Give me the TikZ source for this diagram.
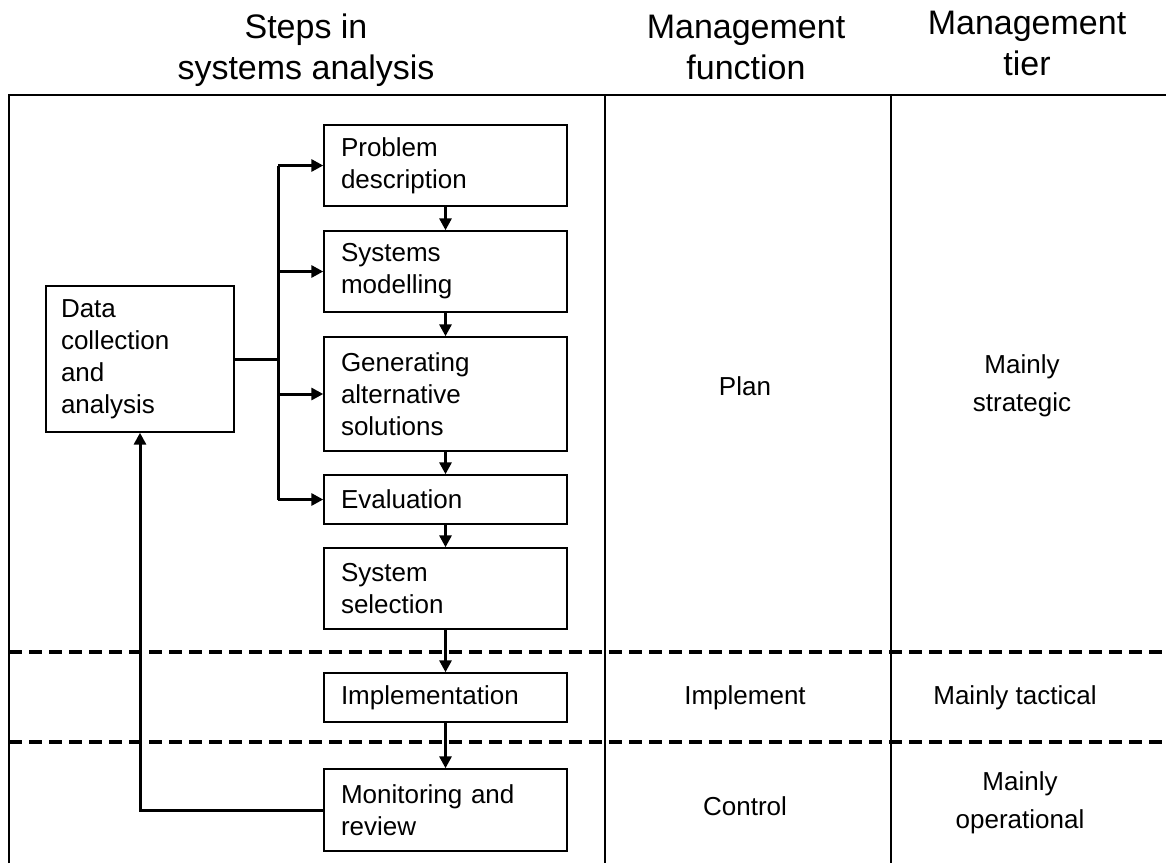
\documentclass[tikz,border=0pt]{standalone}
\usepackage{fontspec}
\setmainfont{Liberation Sans}
\usetikzlibrary{arrows.meta}

\begin{document}
\begin{tikzpicture}[x=1pt,y=1pt,yscale=-1,
  stagebox/.style={draw,rectangle,line width=1.4pt,align=left,inner xsep=17pt,inner ysep=0pt,text width=209pt,font=\fontsize{26}{32}\selectfont},
  headtext/.style={align=center,font=\fontsize{34}{41}\selectfont},
  celltext/.style={align=center,font=\fontsize{26}{38}\selectfont},
  flow/.style={line width=3pt,-{Triangle[length=12pt,width=12pt]}},
  wire/.style={line width=3pt},
  frame/.style={line width=1.2pt},
  splitline/.style={line width=3.2pt,dash pattern={on 13pt off 7pt}}]
\useasboundingbox (0,0) rectangle (1166,863);

%Shape: Table frame
\draw [frame] (9,863) -- (9,95) -- (1166,95) ;
\draw [frame] (605,95) -- (605,863) ;
\draw [frame] (891,95) -- (891,863) ;

%Straight Lines: tier borders
\draw [splitline] (9,652) -- (1166,652) ;
\draw [splitline] (9,742) -- (1166,742) ;

% Text Node: headers
\node [headtext] (hsteps) at (306,50) {Steps in\\systems analysis};
\node [headtext] (hfunc) at (746,47) {Management\\function};
\node [headtext] (htier) at (1027,43) {Management\\tier};

% Steps
\node [stagebox,minimum height=81pt] (prob) at (445.5,165.5) {Problem\\description};
\node [stagebox,minimum height=81pt] (model) at (445.5,271.5) {Systems\\modelling};
\node [stagebox,minimum height=114pt] (gen) at (445.5,394) {Generating\\alternative\\solutions};
\node [stagebox,minimum height=49pt] (eval) at (445.5,499.5) {Evaluation};
\node [stagebox,minimum height=81pt] (sel) at (445.5,588.5) {System\\selection};
\node [stagebox,minimum height=49pt] (impl) at (445.5,697.5) {Implementation};
\node [stagebox,minimum height=82pt] (mon) at (445.5,810) {Monitoring and\\review};
\node [stagebox,inner xsep=15pt,text width=158pt,minimum height=146pt] (data) at (140,359) {Data\\collection\\and\\analysis};

% Arrows down the steps
\foreach \a/\b in {prob/model,model/gen,gen/eval,eval/sel,sel/impl,impl/mon}
  \draw [flow] (\a.south) -- (\b.north) ;

% Data feed
\coordinate (bus) at (278,359);
\draw [wire] (data.east) -- (bus) ;
\draw [wire] (bus |- prob.west) -- (bus |- eval.west) ;
\foreach \b in {prob,model,gen,eval}
  \draw [flow] (bus |- \b.west) -- (\b.west) ;

% Feedback
\draw [flow] (mon.west) -| (data.south) ;

% Text Node: functions and tiers
\node [celltext] (plan) at (745,386) {Plan};
\node [celltext] (strat) at (1022,386) {Mainly\\strategic};
\node [celltext] (implf) at (745,698) {Implement};
\node [celltext] (tact) at (1015,698) {Mainly tactical};
\node [celltext] (ctrl) at (745,806) {Control};
\node [celltext] (oper) at (1020,803) {Mainly\\operational};

\end{tikzpicture}
\end{document}
